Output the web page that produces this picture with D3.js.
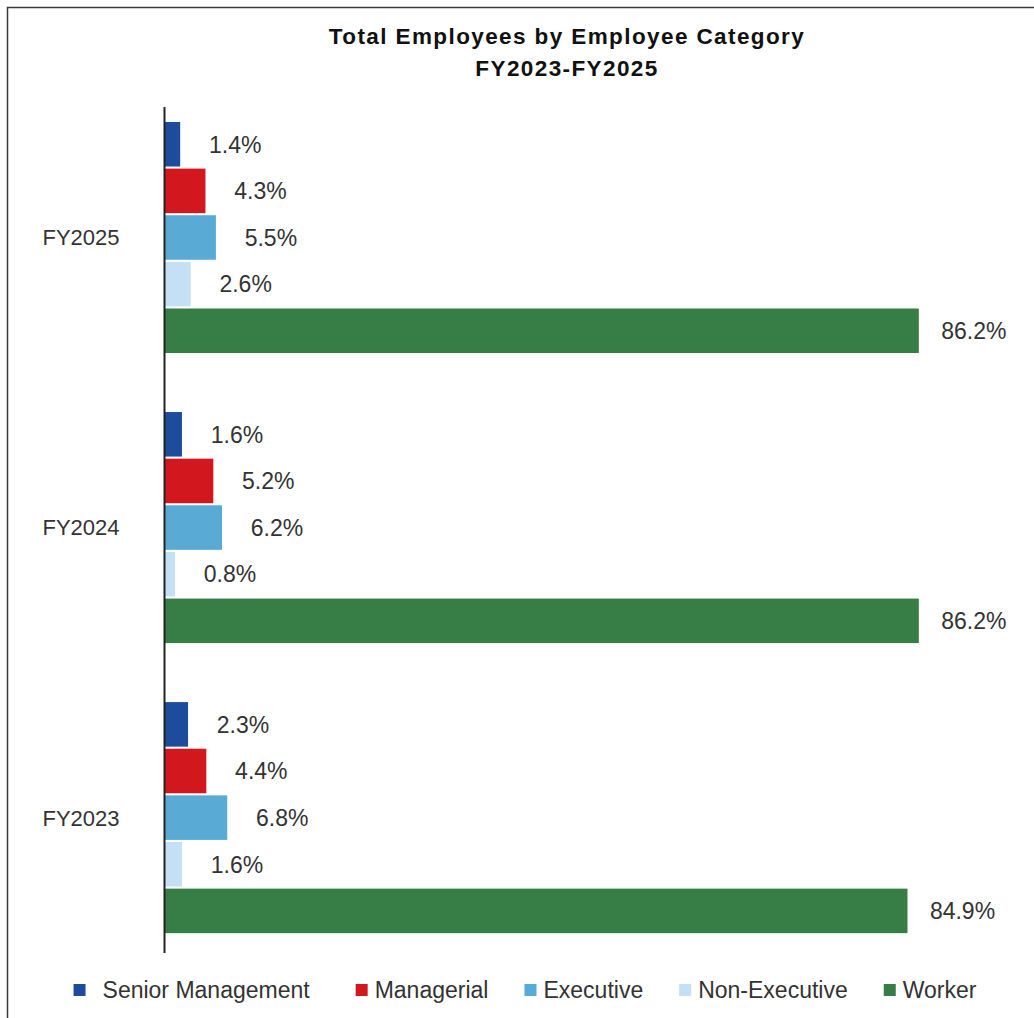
<!DOCTYPE html>
<html>
<head>
<meta charset="utf-8">
<script src="https://cdn.jsdelivr.net/npm/d3@7"></script>
<style>
  html, body { margin: 0; padding: 0; background: #fff; }
  svg { display: block; }
</style>
</head>
<body>
<div id="chart"></div>
<script>
(function(){
    // data
    const years = ["FY2025", "FY2024", "FY2023"];
    const categories = ["Senior Management", "Managerial", "Executive", "Non-Executive", "Worker"];
    const colors = ["#1e4c9c", "#d3171f", "#5aaad6", "#c4e0f4", "#367e45"];
    const values = {
        "FY2025": [1.4, 4.3, 5.5, 2.6, 86.2],
        "FY2024": [1.6, 5.2, 6.2, 0.8, 86.2],
        "FY2023": [2.3, 4.4, 6.8, 1.6, 84.9]
    };
    const titleLines = ["Total Employees by Employee Category", "FY2023-FY2025"];

    const width = 1034, height = 1018;
    const font = "'Liberation Sans', Arial, sans-serif";
    const textColor = "#333";

    const svg = d3.select("#chart").append("svg")
        .attr("width", width)
        .attr("height", height);

    // outer frame (only top and left edges are visible in the crop)
    svg.append("rect")
        .attr("x", 7.5).attr("y", 7.5)
        .attr("width", width + 20).attr("height", height + 20)
        .attr("fill", "none")
        .attr("stroke", "#3a3a3a")
        .attr("stroke-width", 1.5);

    // title
    svg.append("g").selectAll("text")
        .data(titleLines)
        .join("text")
        .attr("x", 567)
        .attr("y", (d, i) => 44 + i * 32)
        .attr("text-anchor", "middle")
        .attr("font-family", font)
        .attr("font-weight", "bold")
        .attr("font-size", 22.5)
        .attr("letter-spacing", 1.4)
        .attr("fill", "#111")
        .text(d => d);

    // scales
    const y = d3.scaleBand()
        .domain(years)
        .range([107, 953])
        .paddingInner(0.2034)
        .paddingOuter(0.06)
        .align(0.43);

    const yInner = d3.scaleBand()
        .domain(categories)
        .range([0, y.bandwidth()])
        .paddingInner(0.045);

    const x = d3.scaleLinear()
        .domain([-0.46, 100])
        .range([164, 164 + 100.46 * 8.71]);

    const color = d3.scaleOrdinal().domain(categories).range(colors);

    // bars
    const groups = svg.append("g")
        .selectAll("g")
        .data(years)
        .join("g")
        .attr("transform", d => `translate(0,${y(d)})`);

    const rows = d => values[d].map((v, i) => ({ cat: categories[i], v: v }));

    groups.selectAll("rect")
        .data(rows)
        .join("rect")
        .attr("x", x(-0.46))
        .attr("y", d => yInner(d.cat))
        .attr("width", d => x(d.v) - x(-0.46))
        .attr("height", yInner.bandwidth())
        .attr("fill", d => color(d.cat));

    groups.selectAll("text")
        .data(rows)
        .join("text")
        .attr("x", d => x(d.v) + 55)
        .attr("y", d => yInner(d.cat) + yInner.bandwidth() / 2)
        .attr("dy", "0.36em")
        .attr("text-anchor", "middle")
        .attr("font-family", font)
        .attr("font-size", 23)
        .attr("fill", textColor)
        .text(d => d.v.toFixed(1) + "%");

    // y axis line and category labels
    svg.append("line")
        .attr("x1", 164.5).attr("x2", 164.5)
        .attr("y1", y.range()[0]).attr("y2", y.range()[1])
        .attr("stroke", "#222")
        .attr("stroke-width", 2);

    svg.append("g").selectAll("text")
        .data(years)
        .join("text")
        .attr("x", 81)
        .attr("y", d => y(d) + y.bandwidth() / 2)
        .attr("dy", "0.36em")
        .attr("text-anchor", "middle")
        .attr("font-family", font)
        .attr("font-size", 22)
        .attr("fill", textColor)
        .text(d => d);

    // legend
    const legend = svg.append("g");
    const items = legend.selectAll("g")
        .data(categories)
        .join("g");
    items.append("rect")
        .attr("width", 12).attr("height", 12)
        .attr("y", -12)
        .attr("fill", d => color(d));
    items.append("text")
        .attr("x", (d, i) => i === 0 ? 29 : 19)
        .attr("y", 0)
        .attr("dy", "0.1em")
        .attr("font-family", font)
        .attr("font-size", 23)
        .attr("fill", textColor)
        .text(d => d);

    let cx = 0;
    const offsets = [];
    items.each(function(d, i){
        offsets.push(cx);
        const w = (i === 0 ? 29 : 19) + d3.select(this).select("text").node().getComputedTextLength();
        cx += w + (i === 0 ? 46 : 36);
    });
    const total = cx - 36;
    const start = 525 - total / 2;
    items.attr("transform", (d, i) => `translate(${start + offsets[i]},996)`);
})();
</script>
</body>
</html>
